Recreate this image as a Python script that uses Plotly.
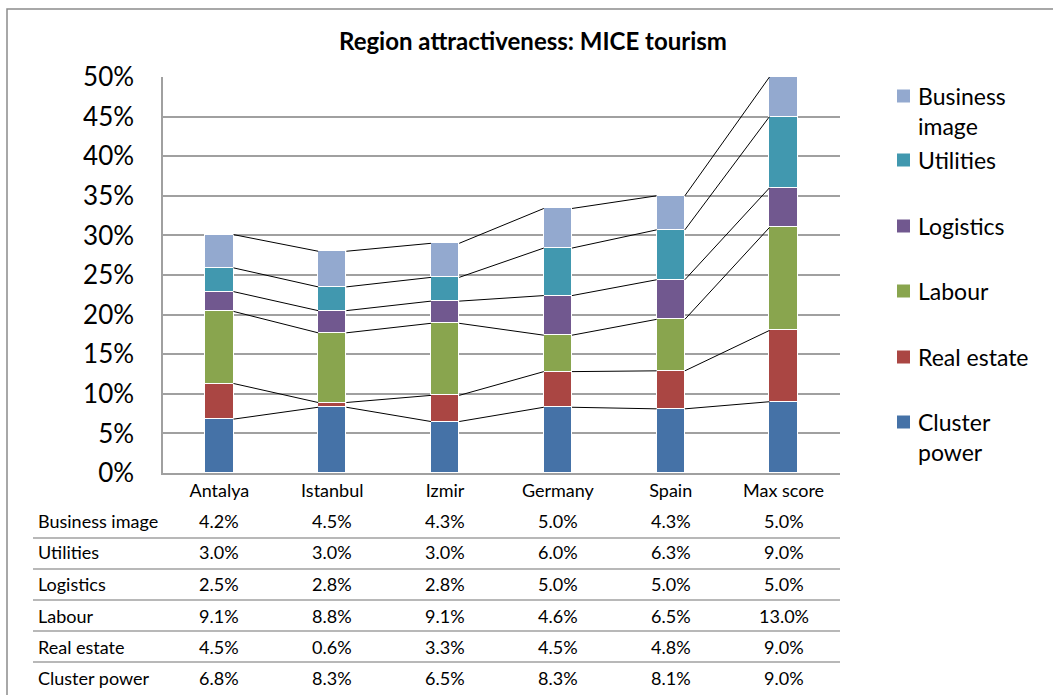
import plotly.graph_objects as go

# ---------------- data ----------------
categories = ["Antalya", "Istanbul", "Izmir", "Germany", "Spain", "Max score"]
cluster_power = [6.8, 8.3, 6.5, 8.3, 8.1, 9.0]
real_estate = [4.5, 0.6, 3.3, 4.5, 4.8, 9.0]
labour = [9.1, 8.8, 9.1, 4.6, 6.5, 13.0]
logistics = [2.5, 2.8, 2.8, 5.0, 5.0, 5.0]
utilities = [3.0, 3.0, 3.0, 6.0, 6.3, 9.0]
business_image = [4.2, 4.5, 4.3, 5.0, 4.3, 5.0]
y_ticks = [0, 5, 10, 15, 20, 25, 30, 35, 40, 45, 50]

series = [
    ("Cluster power", cluster_power, "#4572A7"),
    ("Real estate", real_estate, "#AA4643"),
    ("Labour", labour, "#89A54E"),
    ("Logistics", logistics, "#71588F"),
    ("Utilities", utilities, "#4198AF"),
    ("Business image", business_image, "#93A9CF"),
]

FONT = "Lato"
W, H = 1053, 695
L, R, T, B = 163, 840, 77, 473


def px(x):
    return (x - L) / (R - L)


def py(y):
    return (B - y) / (B - T)


BAR_W = 0.25
xs = list(range(len(categories)))

fig = go.Figure()
for name, vals, col in series:
    fig.add_trace(go.Bar(
        x=xs, y=vals, name=name, width=BAR_W,
        marker=dict(color=col, line=dict(color="white", width=1)),
        showlegend=False,
    ))

# connector lines between tops of stacked segments
cum = [0.0] * len(categories)
lx, ly = [], []
for name, vals, col in series:
    cum = [c + v for c, v in zip(cum, vals)]
    for i in range(len(categories) - 1):
        lx += [i + BAR_W / 2, i + 1 - BAR_W / 2, None]
        ly += [cum[i], cum[i + 1], None]
fig.add_trace(go.Scatter(x=lx, y=ly, mode="lines",
                         line=dict(color="black", width=1),
                         showlegend=False, hoverinfo="skip"))

annotations = []
shapes = []

# title
annotations.append(dict(
    text="<b>Region attractiveness: MICE tourism</b>",
    x=px(533), y=py(40), xref="paper", yref="paper",
    showarrow=False, xanchor="center", yanchor="middle",
    font=dict(family=FONT, size=24, color="black")))

# data table
row_order = list(reversed(series))
row_y = [521, 552, 584, 616, 647, 678]
for (name, vals, col), yy in zip(row_order, row_y):
    annotations.append(dict(
        text=name, x=px(36), y=py(yy), xref="paper", yref="paper",
        showarrow=False, xanchor="left", yanchor="middle",
        font=dict(family=FONT, size=18, color="black")))
    for i, v in enumerate(vals):
        annotations.append(dict(
            text=f"{v:.1f}%", x=i, y=py(yy), xref="x", yref="paper",
            showarrow=False, xanchor="center", yanchor="middle",
            font=dict(family=FONT, size=18, color="black")))
for yy in [538, 569, 600, 631, 662]:
    shapes.append(dict(type="line", xref="paper", yref="paper",
                       x0=px(33), x1=px(840), y0=py(yy), y1=py(yy),
                       line=dict(color="#A0A0A0", width=1.5)))

# legend (manual)
legend_items = [
    ("Business image", ["Business", "image"], 96),
    ("Utilities", ["Utilities"], 160),
    ("Logistics", ["Logistics"], 226),
    ("Labour", ["Labour"], 291),
    ("Real estate", ["Real estate"], 357),
    ("Cluster power", ["Cluster", "power"], 422),
]
colmap = {n: c for n, v, c in series}
for name, lines, yy in legend_items:
    shapes.append(dict(type="rect", xref="paper", yref="paper",
                       x0=px(897), x1=px(910), y0=py(yy - 6.5), y1=py(yy + 6.5),
                       fillcolor=colmap[name], line=dict(width=0)))
    for k, t in enumerate(lines):
        annotations.append(dict(
            text=t, x=px(916), y=py(yy + 30 * k), xref="paper", yref="paper",
            showarrow=False, xanchor="left", yanchor="middle",
            font=dict(family=FONT, size=23, color="black")))

# outer frame
shapes.append(dict(type="rect", xref="paper", yref="paper",
                   x0=px(7), x1=px(1070), y0=py(9), y1=py(720),
                   line=dict(color="#8C8C8C", width=1.5)))

fig.update_layout(
    width=W, height=H,
    margin=dict(l=L, r=W - R, t=T, b=H - B),
    barmode="stack", bargap=0,
    plot_bgcolor="white", paper_bgcolor="white",
    annotations=annotations, shapes=shapes,
    font=dict(family=FONT, color="black"),
)
fig.update_xaxes(
    range=[-0.5, len(categories) - 0.5],
    tickvals=xs, ticktext=categories,
    tickfont=dict(family=FONT, size=18, color="black"),
    showgrid=False, zeroline=False,
    showline=True, linecolor="#A0A0A0", linewidth=1.5,
    ticks="", ticklabelstandoff=1,
)
fig.update_yaxes(
    range=[0, 50], tickvals=y_ticks,
    ticktext=[f"{t}%" for t in y_ticks],
    tickfont=dict(family=FONT, size=26, color="black"),
    showgrid=True, gridcolor="#A0A0A0", gridwidth=1.5,
    zeroline=False, showline=True, linecolor="#A0A0A0", linewidth=1.5,
    ticks="", ticklabelstandoff=22,
)

fig.write_html("out.html")
